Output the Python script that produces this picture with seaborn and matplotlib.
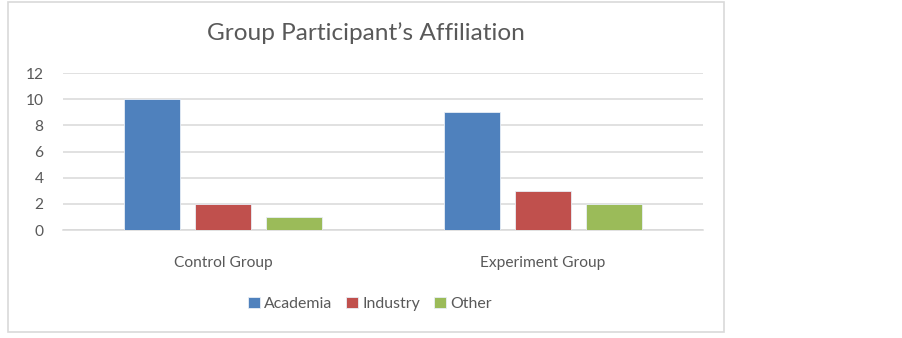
import matplotlib
matplotlib.use("Agg")
import matplotlib.pyplot as plt
import seaborn as sns
import pandas as pd
from matplotlib.patches import Rectangle

groups = ["Control Group", "Experiment Group"]
affiliations = ["Academia", "Industry", "Other"]
academia = [10, 9]
industry = [2, 3]
other = [1, 2]
yticks = [0, 2, 4, 6, 8, 10, 12]
title = "Group Participant\u2019s Affiliation"

colors = ["#4F81BD", "#C0504D", "#9BBB59"]

rows = []
for aff, vals in zip(affiliations, [academia, industry, other]):
    for g, v in zip(groups, vals):
        rows.append({"Group": g, "Affiliation": aff, "Count": v})
df = pd.DataFrame(rows)

sns.set_theme(style="white")
plt.rcParams["font.family"] = ["Lato", "DejaVu Sans"]

W, H = 902, 338
fig = plt.figure(figsize=(W / 100, H / 100), dpi=100)
ax = fig.add_axes([63 / W, 1 - 230 / H, 640 / W, (230 - 73) / H])

sns.barplot(data=df, x="Group", y="Count", hue="Affiliation", order=groups,
            hue_order=affiliations, palette=colors, width=0.666, gap=0.2,
            saturation=1, ax=ax, legend=True, zorder=3,
            edgecolor="#E8EEF6", linewidth=0.6)

ax.set_xlim(-0.5, 1.5)
ax.set_ylim(0, 12)
ax.set_yticks(yticks)
ax.set_yticklabels([str(t) for t in yticks])
ax.grid(axis="y", color="#D9D9D9", linewidth=1.1, zorder=0)
ax.set_axisbelow(True)
for s in ["top", "right", "left"]:
    ax.spines[s].set_visible(False)
ax.spines["bottom"].set_color("#D9D9D9")
ax.spines["bottom"].set_linewidth(1.1)
ax.tick_params(axis="both", length=0, labelsize=11.2, labelcolor="#595959")
ax.tick_params(axis="y", pad=14)
ax.tick_params(axis="x", pad=19)
ax.set_xlabel("")
ax.set_ylabel("")

leg = ax.legend(loc="center", bbox_to_anchor=(370 / W, 1 - 304 / H),
                bbox_transform=fig.transFigure, ncol=3, frameon=False,
                fontsize=11.4, handlelength=0.75, handleheight=0.75,
                handletextpad=0.3, columnspacing=0.85)
for t in leg.get_texts():
    t.set_color("#595959")

fig.text(366 / W, 1 - 33 / H, title, ha="center", va="center",
         fontsize=17.6, color="#595959")

fig.patches.append(Rectangle((8 / W, 1 - 332 / H), 716 / W, 330 / H,
                             transform=fig.transFigure, fill=False,
                             edgecolor="#D9D9D9", linewidth=1.2))

fig.savefig("out.png", dpi=100, facecolor="white")
